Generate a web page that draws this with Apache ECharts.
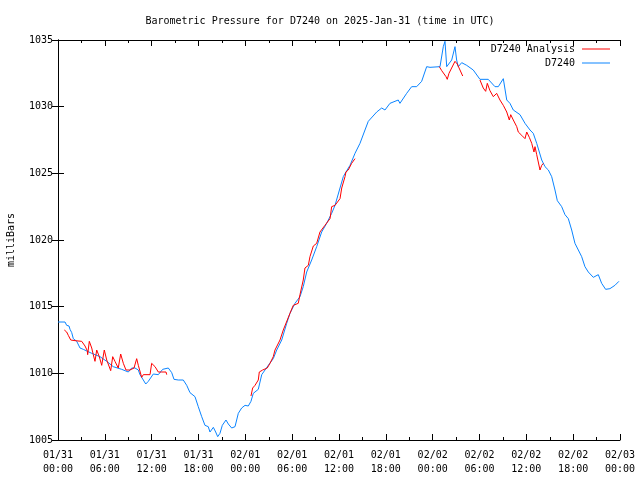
<!DOCTYPE html>
<html>
<head>
<meta charset="utf-8">
<script src="https://cdn.jsdelivr.net/npm/echarts@6/dist/echarts.min.js"></script>
<style>html,body{margin:0;padding:0;background:#fff}#c{width:640px;height:480px}</style>
</head>
<body>
<div id="c"></div>
<script>
var titleText = 'Barometric Pressure for D7240 on 2025-Jan-31 (time in UTC)';
var xTickLabels = ['01/31\n00:00','01/31\n06:00','01/31\n12:00','01/31\n18:00','02/01\n00:00','02/01\n06:00','02/01\n12:00','02/01\n18:00','02/02\n00:00','02/02\n06:00','02/02\n12:00','02/02\n18:00','02/03\n00:00'];
var yTicks = [1005, 1010, 1015, 1020, 1025, 1030, 1035];

// D7240 observations: hours since 01/31 00:00 UTC, pressure (mb)
var obsHours = [0.0,0.9,1.11,1.41,1.54,1.76,1.96,2.40,2.82,3.24,4.32,5.38,6.24,7.08,8.16,9.01,9.44,9.86,10.29,10.50,10.93,11.24,11.57,12.21,12.85,13.41,14.13,14.57,14.86,15.41,16.05,16.49,16.91,17.55,17.97,18.41,18.83,19.25,19.47,19.90,20.20,20.46,20.75,21.05,21.52,21.82,22.25,22.68,23.10,23.53,23.96,24.38,24.72,25.02,25.66,26.10,26.52,26.94,27.58,28.02,28.66,29.30,29.72,30.36,31.00,31.42,31.86,32.50,33.14,33.78,34.42,35.06,35.49,36.13,36.55,36.89,37.41,38.05,38.69,39.33,39.75,40.83,41.47,41.89,42.53,43.59,43.81,44.67,45.31,45.95,46.59,47.23,47.66,48.94,49.36,49.58,49.80,50.44,50.86,51.07,51.28,51.72,52.36,53.20,54.06,55.12,55.98,56.41,57.05,57.49,57.90,58.33,59.19,59.83,60.47,60.89,61.33,61.97,62.39,62.82,63.25,63.67,63.97,64.53,64.95,65.38,65.81,66.23,66.66,67.09,67.51,67.94,68.58,69.22,69.65,70.16,70.71,71.35,71.86];
var obsValues = [1013.85,1013.85,1013.6,1013.55,1013.3,1013.05,1012.6,1012.4,1011.9,1011.8,1011.5,1011.25,1010.9,1010.5,1010.3,1010.1,1010.4,1010.4,1010.25,1009.9,1009.5,1009.2,1009.4,1009.95,1009.9,1010.3,1010.4,1010.05,1009.55,1009.5,1009.5,1009.1,1008.55,1008.25,1007.5,1006.75,1006.1,1006.0,1005.6,1005.95,1005.6,1005.25,1005.5,1006.1,1006.5,1006.2,1005.9,1006.0,1007.0,1007.4,1007.6,1007.55,1007.9,1008.5,1008.8,1009.9,1010.25,1010.6,1011.1,1011.75,1012.5,1013.75,1014.5,1015.25,1015.75,1016.5,1017.6,1018.5,1019.5,1020.6,1021.25,1022.0,1022.6,1023.9,1024.75,1025.1,1025.6,1026.5,1027.25,1028.25,1028.9,1029.6,1029.9,1029.75,1030.25,1030.5,1030.25,1031.0,1031.5,1031.5,1031.9,1033.0,1032.95,1033.0,1034.5,1034.9,1033.0,1033.5,1034.5,1033.5,1033.0,1033.3,1033.1,1032.75,1032.05,1032.05,1031.5,1031.5,1032.1,1030.5,1030.25,1029.75,1029.4,1028.75,1028.25,1028.0,1027.25,1026.0,1025.5,1025.25,1024.75,1023.75,1022.95,1022.5,1021.9,1021.6,1020.75,1019.75,1019.25,1018.75,1018.0,1017.6,1017.2,1017.4,1016.75,1016.3,1016.35,1016.6,1016.9];

// D7240 Analysis: null marks a gap
var anaHours = [0.81,1.11,1.32,1.63,1.88,2.18,3.04,3.46,3.75,3.80,4.01,4.32,4.52,4.74,4.96,5.29,5.60,5.93,6.24,6.75,7.01,7.30,7.72,8.03,8.37,8.71,9.22,9.74,10.08,10.29,10.72,10.93,11.79,12.00,12.43,12.85,13.28,13.84,13.93,19.0,
  24.72,24.94,25.24,25.66,25.79,26.22,26.81,27.16,27.58,27.80,28.44,28.86,29.72,30.14,30.78,31.00,31.42,31.64,32.07,32.28,32.71,33.14,33.56,33.78,34.20,34.85,35.06,35.49,36.13,36.35,36.77,36.89,37.19,37.62,38.05,43.0,
  48.85,49.16,49.71,49.87,50.09,50.86,51.15,51.85,53.0,
  54.06,54.48,54.79,55.00,55.34,55.77,55.98,56.20,56.62,57.05,57.49,57.82,58.00,58.33,58.77,58.97,59.41,59.83,60.05,60.38,60.69,60.98,61.11,61.33,61.75,61.97,62.18];
var anaValues = [1013.25,1013.1,1012.85,1012.5,1012.45,1012.45,1012.4,1012.05,1011.7,1011.4,1012.4,1011.9,1011.4,1010.9,1011.75,1011.25,1010.6,1011.75,1011.0,1010.2,1011.25,1010.9,1010.4,1011.45,1010.75,1010.25,1010.25,1010.4,1011.1,1010.6,1009.7,1009.9,1009.9,1010.75,1010.5,1010.1,1010.1,1010.1,1009.9,null,
  1008.3,1008.9,1009.1,1009.5,1010.1,1010.25,1010.4,1010.75,1011.25,1011.75,1012.5,1013.25,1014.5,1015.1,1015.25,1015.9,1017.0,1017.9,1018.1,1018.75,1019.55,1019.75,1020.6,1020.75,1021.1,1021.6,1022.5,1022.6,1023.1,1023.9,1024.75,1025.1,1025.25,1025.75,1026.1,null,
  1033.0,1032.7,1032.25,1032.05,1032.5,1033.4,1033.2,1032.3,null,
  1032.0,1031.4,1031.15,1031.75,1031.2,1030.75,1030.75,1031.0,1030.5,1030.1,1029.6,1029.0,1029.4,1029.0,1028.5,1028.1,1027.85,1027.6,1028.1,1027.7,1027.25,1026.6,1027.0,1026.4,1025.25,1025.6,1025.75];

function pairs(h, v) { return h.map(function (x, i) { return [x, v[i]]; }); }

var FONT = '"DejaVu Sans Mono", "Liberation Mono", monospace';
var black = '#000';
var chart = echarts.init(document.getElementById('c'), null, {renderer: 'canvas'});

function xAx(pos, labels) {
  return {
    type: 'value', position: pos, min: 0, max: 72, interval: 6,
    axisLine: {show: true, lineStyle: {color: black, width: 1}},
    axisTick: {show: true, inside: true, length: 6, lineStyle: {color: black}},
    minorTick: {show: true, splitNumber: 2, length: 3, lineStyle: {color: black}},
    splitLine: {show: false},
    axisLabel: {show: labels, color: black, fontFamily: FONT, fontSize: 10, lineHeight: 14, margin: 8,
      showMinLabel: true, showMaxLabel: true,
      formatter: function (v) { return xTickLabels[Math.round(v / 6)]; }}
  };
}
function yAx(pos, labels) {
  return {
    type: 'value', position: pos, min: yTicks[0], max: yTicks[yTicks.length - 1], interval: 5,
    name: labels ? 'milliBars' : '', nameLocation: 'middle', nameGap: 42,
    nameTextStyle: {color: black, fontFamily: FONT, fontSize: 10},
    axisLine: {show: true, lineStyle: {color: black, width: 1}},
    axisTick: {show: true, inside: true, length: 6, lineStyle: {color: black}},
    splitLine: {show: false},
    axisLabel: {show: labels, color: black, fontFamily: FONT, fontSize: 10, margin: 5,
      formatter: function (v) { return String(v); }}
  };
}

chart.setOption({
  animation: false,
  backgroundColor: '#fff',
  title: {text: titleText, left: 'center', top: 11,
    textStyle: {color: black, fontFamily: FONT, fontSize: 10, fontWeight: 'normal'}},
  grid: {left: 58, right: 20, top: 40, bottom: 40, containLabel: false, outerBoundsMode: 'none'},
  legend: [
    {data: ['D7240 Analysis'], right: 30, top: 44, orient: 'vertical', align: 'right',
      icon: 'rect', itemWidth: 28, itemHeight: 1, padding: 0, itemGap: 0,
      textStyle: {color: black, fontFamily: FONT, fontSize: 10, padding: [0, 2, 0, 0]}},
    {data: ['D7240'], right: 30, top: 58, orient: 'vertical', align: 'right',
      icon: 'rect', itemWidth: 28, itemHeight: 1, padding: 0, itemGap: 0,
      textStyle: {color: black, fontFamily: FONT, fontSize: 10, padding: [0, 2, 0, 0]}}
  ],
  xAxis: [xAx('bottom', true), xAx('top', false)],
  yAxis: [yAx('left', true), yAx('right', false)],
  series: [
    {name: 'D7240 Analysis', type: 'line', data: pairs(anaHours, anaValues), showSymbol: false,
      connectNulls: false, color: '#ff0000', lineStyle: {color: '#ff0000', width: 1}, z: 3},
    {name: 'D7240', type: 'line', data: pairs(obsHours, obsValues), showSymbol: false,
      color: '#0a84ff', lineStyle: {color: '#0a84ff', width: 1}, z: 2}
  ]
});
</script>
</body>
</html>
